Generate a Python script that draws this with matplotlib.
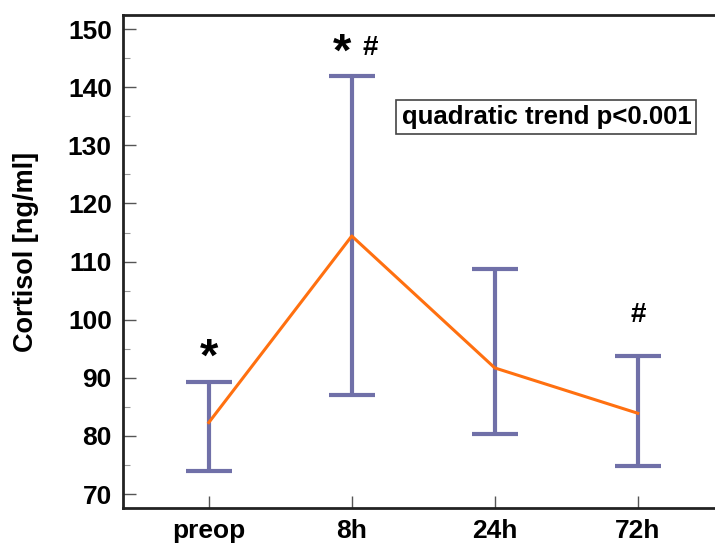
import matplotlib
matplotlib.use("Agg")
import matplotlib.pyplot as plt
from matplotlib.ticker import MultipleLocator

categories = ["preop", "8h", "24h", "72h"]
means = [82.3, 114.4, 91.7, 83.9]
upper = [89.3, 141.9, 108.8, 93.7]
lower = [74.0, 87.1, 80.3, 74.8]

plt.rcParams['font.family'] = ['Liberation Sans', 'DejaVu Sans']
plt.rcParams['font.weight'] = 'bold'

fig = plt.figure(figsize=(7.15, 5.43), dpi=100)
ax = fig.add_axes([0.172, 0.0645, 0.84, 0.9075])

x = list(range(len(categories)))
bar_color = '#7070A8'
err_lo = [m - l for m, l in zip(means, lower)]
err_hi = [u - m for m, u in zip(means, upper)]
ax.errorbar(x, means, yerr=[err_lo, err_hi], fmt='none', ecolor=bar_color,
            elinewidth=3.0, capsize=16.5, capthick=3.0, zorder=2)
ax.plot(x, means, color='#FF7010', lw=2.2, zorder=3)

ax.set_xlim(-0.6, 3.6)
ax.set_ylim(67.6, 152.4)
ax.set_xticks(x)
ax.set_xticklabels(categories)
ax.yaxis.set_major_locator(MultipleLocator(10))
ax.yaxis.set_minor_locator(MultipleLocator(5))

ax.tick_params(axis='both', which='major', direction='in', length=9, width=1.0,
               color='#555555', labelsize=19, pad=8)
ax.tick_params(axis='y', which='minor', direction='in', length=5, width=0.8,
               color='#999999')
for lab in ax.get_xticklabels() + ax.get_yticklabels():
    lab.set_fontweight('bold')

for s in ['left', 'bottom', 'top', 'right']:
    ax.spines[s].set_linewidth(2.0)
    ax.spines[s].set_color('#222222')

ax.set_ylabel("Cortisol [ng/ml]", fontsize=19.5, fontweight='bold')
ax.yaxis.set_label_coords(-0.139, 0.519)

# significance markers
ax.text(0.0, 93.3, "*", fontsize=34, fontweight='bold', ha='center', va='center')
ax.text(0.93, 145.8, "*", fontsize=34, fontweight='bold', ha='center', va='center')
ax.text(1.13, 146.8, "#", fontsize=20, fontweight='bold', ha='center', va='center')
ax.text(3.0, 100.8, "#", fontsize=20, fontweight='bold', ha='center', va='center')

ax.text(0.705, 0.793, "quadratic trend p<0.001", transform=ax.transAxes,
        fontsize=18.5, fontweight='bold', ha='center', va='center',
        bbox=dict(boxstyle='square,pad=0.2', facecolor='white',
                  edgecolor='#444444', linewidth=1.2), zorder=5)

fig.savefig("out.png", dpi=100)
